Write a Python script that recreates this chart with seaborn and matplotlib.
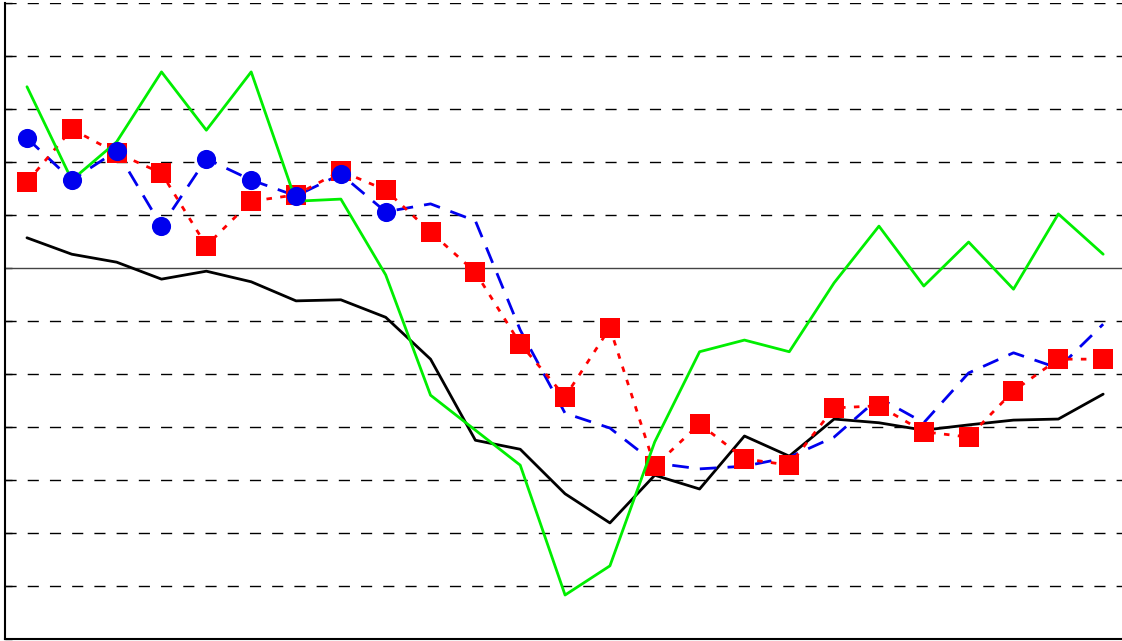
import numpy as np
import pandas as pd
import matplotlib
matplotlib.use("Agg")
import matplotlib.pyplot as plt
import seaborn as sns

# values (25 points per series)
steps = list(range(25))
black_vals = [0.57, 0.26, 0.11, -0.21, -0.06, -0.26, -0.62, -0.60, -0.93, -1.72,
              -3.25, -3.42, -4.26, -4.81, -3.91, -4.17, -3.17, -3.55, -2.85, -2.92,
              -3.06, -2.96, -2.87, -2.85, -2.38]
green_vals = [3.42, 1.66, 2.38, 3.70, 2.60, 3.70, 1.26, 1.30, -0.13, -2.40,
              -3.06, -3.72, -6.17, -5.62, -3.28, -1.58, -1.36, -1.58, -0.28, 0.79,
              -0.34, 0.49, -0.40, 1.02, 0.26]
blue_vals = [2.45, 1.66, 2.21, 0.79, 2.06, 1.66, 1.36, 1.77, 1.06, 1.21,
             0.89, -1.17, -2.74, -3.02, -3.68, -3.79, -3.74, -3.57, -3.19, -2.45,
             -2.92, -1.98, -1.60, -1.89, -1.06]
red_vals = [1.62, 2.62, 2.17, 1.79, 0.42, 1.26, 1.38, 1.83, 1.47, 0.68,
            -0.08, -1.43, -2.43, -1.13, -3.74, -2.94, -3.60, -3.72, -2.64, -2.60,
            -3.09, -3.19, -2.32, -1.72, -1.72]
blue_marked = 9  # only the first points of the blue series carry circles

df = pd.DataFrame({"step": steps, "black": black_vals, "green": green_vals,
                   "blue": blue_vals, "red": red_vals})

sns.set_style("white")
fig = plt.figure(figsize=(11.22, 6.41), dpi=100)
ax = fig.add_axes([5 / 1122, 2 / 641, 1 - 5 / 1122, 636 / 641])

for yv in range(-7, 6):
    if yv == 0:
        ax.axhline(0, color="#444444", lw=1.0, zorder=1)
    else:
        ax.axhline(yv, color="black", lw=1.0, ls=(0, (8, 8)), zorder=1)

sns.lineplot(data=df, x="step", y="black", color="black", lw=2, ax=ax, zorder=3)
sns.lineplot(data=df, x="step", y="blue", color="#0000ee", lw=2,
             dashes=False, ax=ax, zorder=3).lines[-1].set_dashes((6, 4))
sns.lineplot(data=df, x="step", y="red", color="#ff0000", lw=2, ax=ax,
             zorder=4).lines[-1].set_dashes((2, 3))
sns.scatterplot(data=df, x="step", y="red", color="#ff0000", marker="s",
                s=210, linewidth=0, ax=ax, zorder=5)
sns.lineplot(data=df, x="step", y="green", color="#00ee00", lw=2, ax=ax, zorder=6)
sns.scatterplot(data=df.iloc[:blue_marked], x="step", y="blue", color="#0000ee",
                marker="o", s=190, linewidth=0, ax=ax, zorder=7)

ax.set_xlim(-0.49, 24.42)
ax.set_ylim(-7, 5)
ax.set_yticks(range(-7, 6))
ax.set_xticks([])
ax.tick_params(axis="y", direction="in", length=5, width=1, labelleft=False, left=True)
ax.set_xlabel("")
ax.set_ylabel("")
for side in ["top", "right"]:
    ax.spines[side].set_visible(False)
ax.spines["left"].set_color("black")
ax.spines["left"].set_linewidth(1.5)
ax.spines["bottom"].set_color("black")
ax.spines["bottom"].set_linewidth(1.5)

fig.savefig("out.png", dpi=100)
